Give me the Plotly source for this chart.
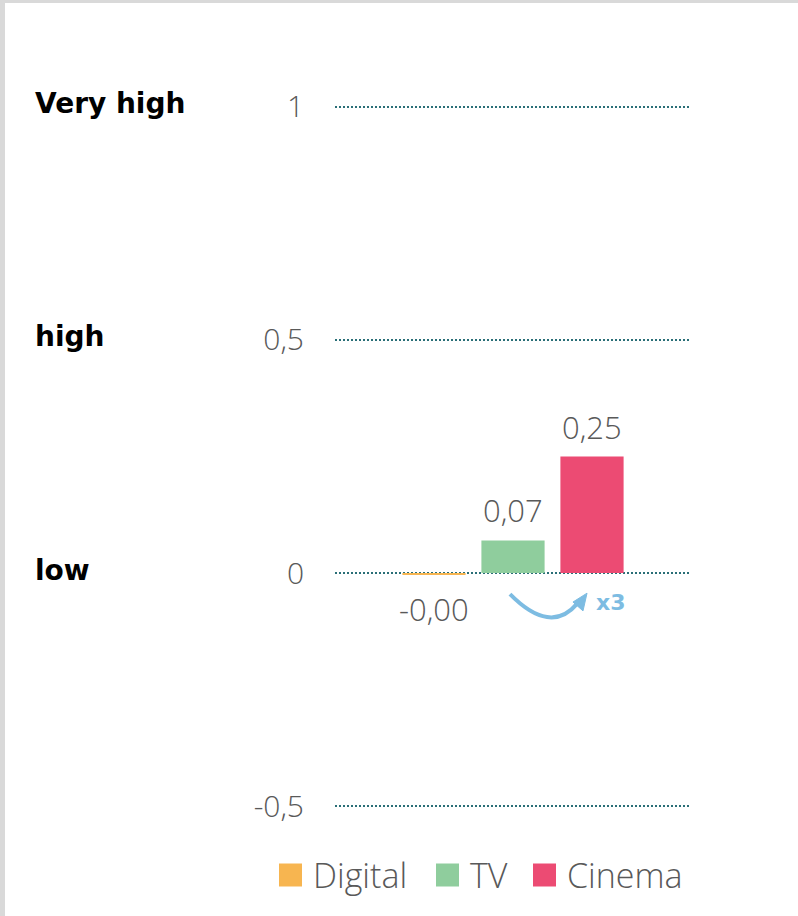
import plotly.graph_objects as go

# ---- data ----
channels = ["Digital", "TV", "Cinema"]
values = [-0.002, 0.07, 0.25]
colors = ["#F7B550", "#8FCD9D", "#EC4B73"]
tick_vals = [-0.5, 0, 0.5, 1]
tick_text = ["-0,5", "0", "0,5", "1"]
level_vals = [1, 0.5, 0]
level_text = ["Very high", "high", "low"]
growth_text = "x3"

# ---- layout constants ----
W, H = 798, 916
ML, MR, MT, MB = 335, 108, 102, 105
X_RANGE = [-1.2532, 3.2405]
Y_RANGE = [-0.51, 1.01]
GRAY = "#595959"
ARROW = "#7DBCE2"
LIGHT_FONT = "Segoe UI, Open Sans, Lato, sans-serif"
HEAVY_FONT = "DejaVu Sans, Arial Black, sans-serif"

plot_w = W - ML - MR
plot_h = H - MT - MB


def paper_x(px):
    return (px - ML) / plot_w


def paper_y(py):
    return (H - MB - py) / plot_h


x_pos = list(range(len(channels)))
labels = [f"{v:.2f}".replace(".", ",") for v in values]

fig = go.Figure()
fig.add_trace(go.Bar(
    x=x_pos, y=values, width=0.8,
    marker=dict(color=colors, line=dict(width=0)),
    hoverinfo="skip", showlegend=False,
))

annotations = []
# value labels above / below each bar
for xi, v, lab in zip(x_pos, values, labels):
    annotations.append(dict(
        x=xi, y=v, xref="x", yref="y", text=lab, showarrow=False,
        yanchor="bottom" if v >= 0 else "top",
        yshift=7 if v >= 0 else -12,
        font=dict(family=LIGHT_FONT, size=31, color=GRAY, weight=300),
    ))

# level names on the far left
for lv, lt in zip(level_vals, level_text):
    annotations.append(dict(
        x=paper_x(33), y=lv, xref="paper", yref="y", text=lt, showarrow=False,
        xanchor="left", yanchor="middle", yshift=3,
        font=dict(family=HEAVY_FONT, size=28, color="black", weight=700),
    ))

# growth marker between TV and Cinema
annotations.append(dict(
    x=2.24, y=-0.064, xref="x", yref="y", text=growth_text, showarrow=False,
    xanchor="center", yanchor="middle",
    font=dict(family=HEAVY_FONT, size=22, color=ARROW, weight=700),
))

shapes = [
    # curved arrow
    dict(type="path", xref="x", yref="y",
         path="M 0.962,-0.045 Q 1.475,-0.133 1.810,-0.066",
         line=dict(color=ARROW, width=4)),
    dict(type="path", xref="x", yref="y",
         path="M 1.937,-0.043 L 1.759,-0.062 L 1.886,-0.081 Z",
         fillcolor=ARROW, line=dict(color=ARROW, width=1)),
    # frame strips
    dict(type="rect", xref="paper", yref="paper", layer="above",
         x0=paper_x(0), x1=paper_x(W), y0=paper_y(3), y1=paper_y(0),
         fillcolor="#D9D9D9", line=dict(width=0)),
    dict(type="rect", xref="paper", yref="paper", layer="above",
         x0=paper_x(0), x1=paper_x(5), y0=paper_y(H), y1=paper_y(0),
         fillcolor="#D9D9D9", line=dict(width=0)),
]

# legend: coloured squares with names
legend_x = [279, 436, 533]
SQ = 23
LEG_Y = 875
for lx, name, col in zip(legend_x, channels, colors):
    shapes.append(dict(
        type="rect", xref="paper", yref="paper",
        x0=paper_x(lx), x1=paper_x(lx + SQ),
        y0=paper_y(LEG_Y + SQ / 2), y1=paper_y(LEG_Y - SQ / 2),
        fillcolor=col, line=dict(width=0),
    ))
    annotations.append(dict(
        x=paper_x(lx + SQ + 9), y=paper_y(LEG_Y), xref="paper", yref="paper",
        text=name, showarrow=False, xanchor="left", yanchor="middle",
        font=dict(family=LIGHT_FONT, size=34, color=GRAY, weight=300),
    ))

fig.update_layout(
    width=W, height=H,
    margin=dict(l=ML, r=MR, t=MT, b=MB, pad=0),
    paper_bgcolor="white", plot_bgcolor="white",
    separators=",.",
    showlegend=False,
    xaxis=dict(range=X_RANGE, visible=False, fixedrange=True),
    yaxis=dict(
        range=Y_RANGE, tickmode="array", tickvals=tick_vals, ticktext=tick_text,
        showgrid=True, gridcolor="#2A6F77", gridwidth=1.5, griddash="2px,2px",
        zeroline=False, showline=False, ticks="", ticklabelstandoff=30,
        tickfont=dict(family=LIGHT_FONT, size=30, color=GRAY, weight=300),
        fixedrange=True,
    ),
    annotations=annotations,
    shapes=shapes,
)

fig.write_html("out.html")
